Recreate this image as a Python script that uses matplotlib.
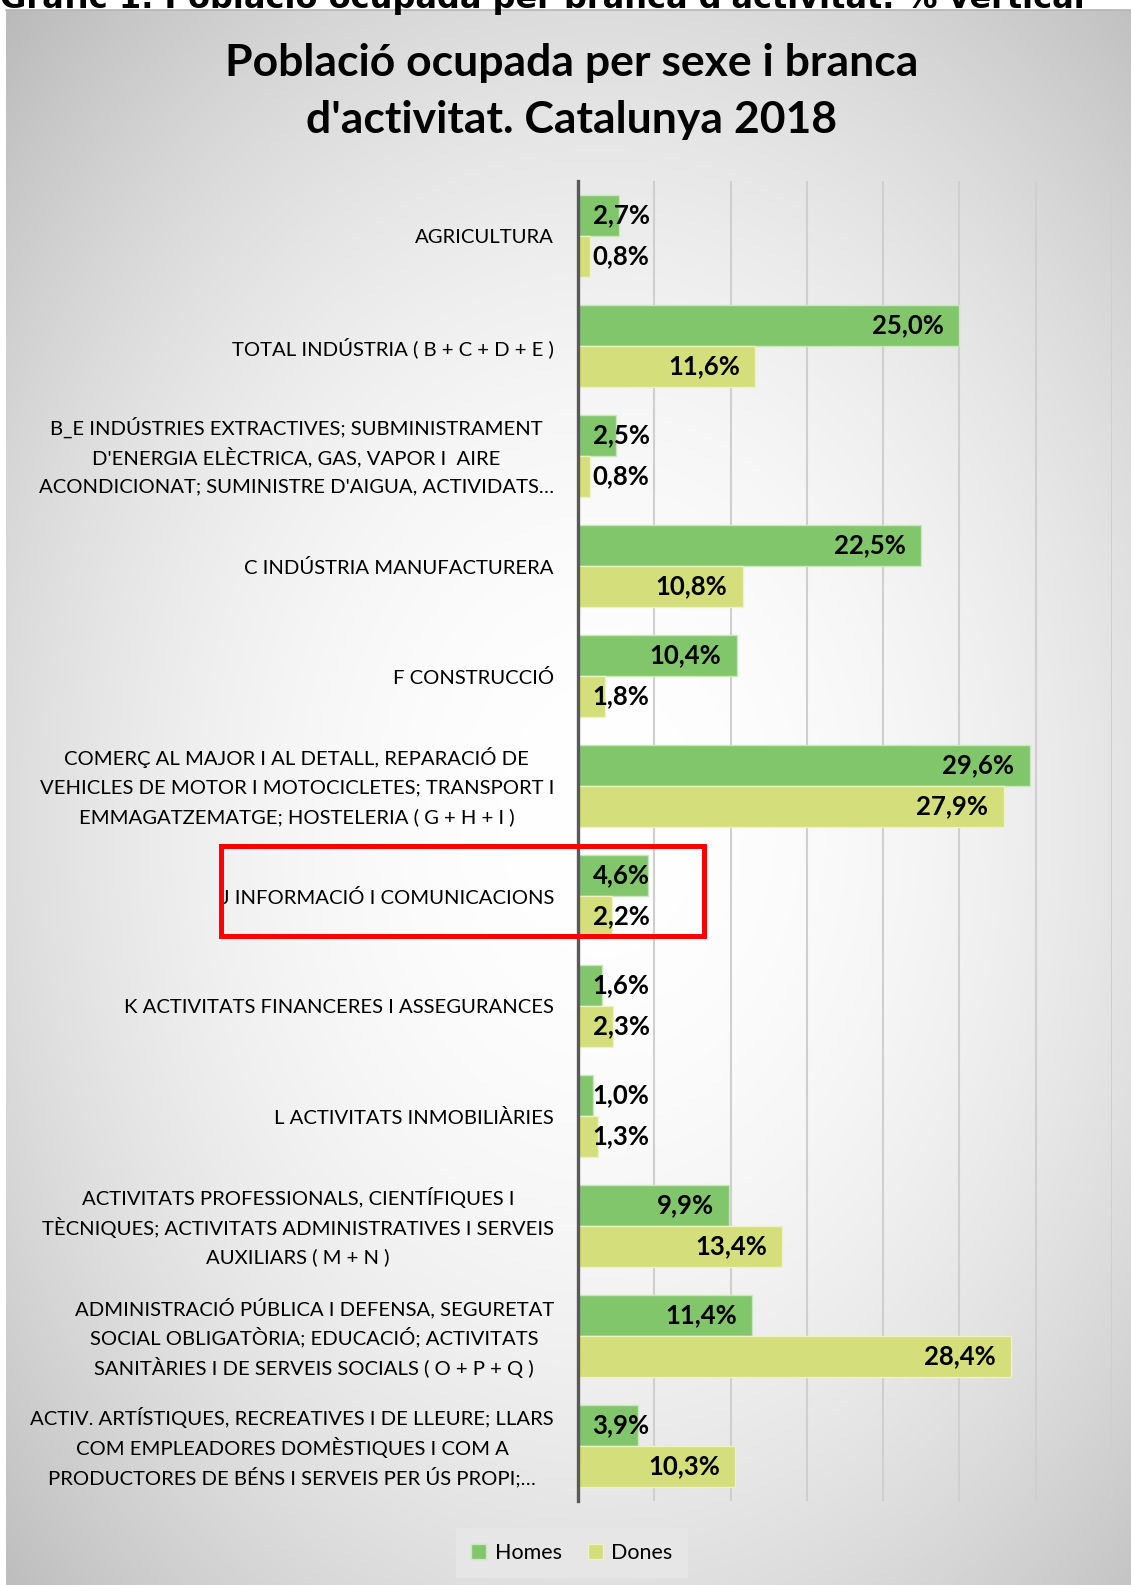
import numpy as np
import matplotlib
matplotlib.use("Agg")
import matplotlib.pyplot as plt
import matplotlib.patches as patches
import matplotlib.transforms as mtransforms

plt.rcParams['font.family'] = ['Lato', 'DejaVu Sans']

# data
categories = [
    "AGRICULTURA",
    "TOTAL INDÚSTRIA ( B + C + D + E )",
    "B_E INDÚSTRIES EXTRACTIVES; SUBMINISTRAMENT\nD'ENERGIA ELÈCTRICA, GAS, VAPOR I  AIRE\nACONDICIONAT; SUMINISTRE D'AIGUA, ACTIVIDATS…",
    "C INDÚSTRIA MANUFACTURERA",
    "F CONSTRUCCIÓ",
    "COMERÇ AL MAJOR I AL DETALL, REPARACIÓ DE\nVEHICLES DE MOTOR I MOTOCICLETES; TRANSPORT I\nEMMAGATZEMATGE; HOSTELERIA ( G + H + I )",
    "J INFORMACIÓ I COMUNICACIONS",
    "K ACTIVITATS FINANCERES I ASSEGURANCES",
    "L ACTIVITATS INMOBILIÀRIES",
    "ACTIVITATS PROFESSIONALS, CIENTÍFIQUES I\nTÈCNIQUES; ACTIVITATS ADMINISTRATIVES I SERVEIS\nAUXILIARS ( M + N )",
    "ADMINISTRACIÓ PÚBLICA I DEFENSA, SEGURETAT\nSOCIAL OBLIGATÒRIA; EDUCACIÓ; ACTIVITATS\nSANITÀRIES I DE SERVEIS SOCIALS ( O + P + Q )",
    "ACTIV. ARTÍSTIQUES, RECREATIVES I DE LLEURE; LLARS\nCOM EMPLEADORES DOMÈSTIQUES I COM A\nPRODUCTORES DE BÉNS I SERVEIS PER ÚS PROPI;…",
]
homes = [2.7, 25.0, 2.5, 22.5, 10.4, 29.6, 4.6, 1.6, 1.0, 9.9, 11.4, 3.9]
dones = [0.8, 11.6, 0.8, 10.8, 1.8, 27.9, 2.2, 2.3, 1.3, 13.4, 28.4, 10.3]
series_names = ["Homes", "Dones"]

W, H = 1131, 1585
fig = plt.figure(figsize=(W / 100, H / 100), dpi=100)
fig.patch.set_facecolor("white")

# radial grey background panel
bg = fig.add_axes([6 / W, 0, 1 - 6 / W, (H - 10) / H])
yy, xx = np.mgrid[10:H, 6:W]
r2 = ((xx - 600) / 700.0) ** 2 + ((yy - 820) / 950.0) ** 2
grey = np.clip(255 - 48 * r2, 186, 255) / 255.0
bg.imshow(np.dstack([grey, grey, grey]), aspect="auto", interpolation="bilinear")
bg.set_axis_off()
fig.add_artist(plt.Line2D([6 / W, 1], [1 - 10 / H, 1 - 10 / H], color="#B5B5B5", lw=1.2))

# heading of the page, cut off at the top like in the source
fig.text(0, 1 - 8 / H, "Gràfic 1. Població ocupada per branca d'activitat. % vertical",
         fontsize=23, fontweight="bold", va="baseline", ha="left", family="DejaVu Sans")

# title
fig.text(572 / W, 1 - 63 / H, "Població ocupada per sexe i branca", fontsize=32,
         fontweight="bold", ha="center", va="center")
fig.text(572 / W, 1 - 120 / H, "d'activitat. Catalunya 2018", fontsize=32,
         fontweight="bold", ha="center", va="center")

ax = fig.add_axes([578 / W, 1 - 1501 / H, (1112 - 578) / W, (1501 - 181) / H])
ax.patch.set_alpha(0)

y = np.arange(len(categories))
h = 0.373
ax.barh(y - h / 2, homes, height=h, color="#82C66C", edgecolor="#C8E8BC", lw=1, label=series_names[0])
ax.barh(y + h / 2, dones, height=h, color="#D4DE7A", edgecolor="#EEF2C4", lw=1, label=series_names[1])

# value labels: inside end, or just right of the axis when the bar is too short
for vals, off in [(homes, -h / 2), (dones, h / 2)]:
    for i, v in enumerate(vals):
        ax.text(max(v - 1.0, 4.7), i + off, f"{v:.1f}%".replace(".", ","), ha="right", va="center",
                fontsize=18.5, fontweight="bold", color="black")

ax.set_xlim(0, 35)
ax.set_ylim(len(categories) - 0.5, -0.5)
ax.set_xticks(np.arange(0, 36, 5))
ax.set_xticklabels([])
ax.xaxis.grid(True, color="#CFCFCF", lw=1.5)
ax.set_axisbelow(True)
ax.set_yticks(y)
ax.set_yticklabels([])
ax.tick_params(axis="both", length=0)
for s in ["top", "right", "bottom"]:
    ax.spines[s].set_visible(False)
ax.spines["left"].set_color("#595959")
ax.spines["left"].set_linewidth(2.4)
ax.spines["left"].set_zorder(5)

# category labels: lines centred inside the block, block right-aligned left of the axis
renderer = fig.canvas.get_renderer()
trans = mtransforms.blended_transform_factory(ax.transAxes, ax.transData)
pitch = 29.8  # px between lines
for i, lab in enumerate(categories):
    lines = lab.split("\n")
    texts = [ax.text(0, i, line, fontsize=14.6, ha="center", va="center_baseline", clip_on=False,
                     transform=trans) for line in lines]
    bw = max(t.get_window_extent(renderer).width for t in texts)
    for k, t in enumerate(texts):
        dy = (k - (len(lines) - 1) / 2) * pitch
        t.set_transform(trans + mtransforms.Affine2D().translate(-24 - bw / 2, -dy))

leg = ax.legend(loc="center", bbox_to_anchor=(572 / W, 1 - 1553 / H), bbox_transform=fig.transFigure,
                ncol=2, frameon=True, fancybox=False, facecolor="#E6E6E6", edgecolor="none",
                fontsize=15.5, handlelength=0.7, handleheight=0.7, handletextpad=0.4, columnspacing=1.2,
                borderpad=0.7)
leg.get_frame().set_alpha(1)

# red highlight box
fig.add_artist(patches.Rectangle((220.5 / W, 1 - 936.5 / H), (703.5 - 220.5) / W, 90 / H,
                                 transform=fig.transFigure, fill=False, edgecolor="red", lw=3.6, zorder=10))

fig.savefig("out.png", dpi=100)
